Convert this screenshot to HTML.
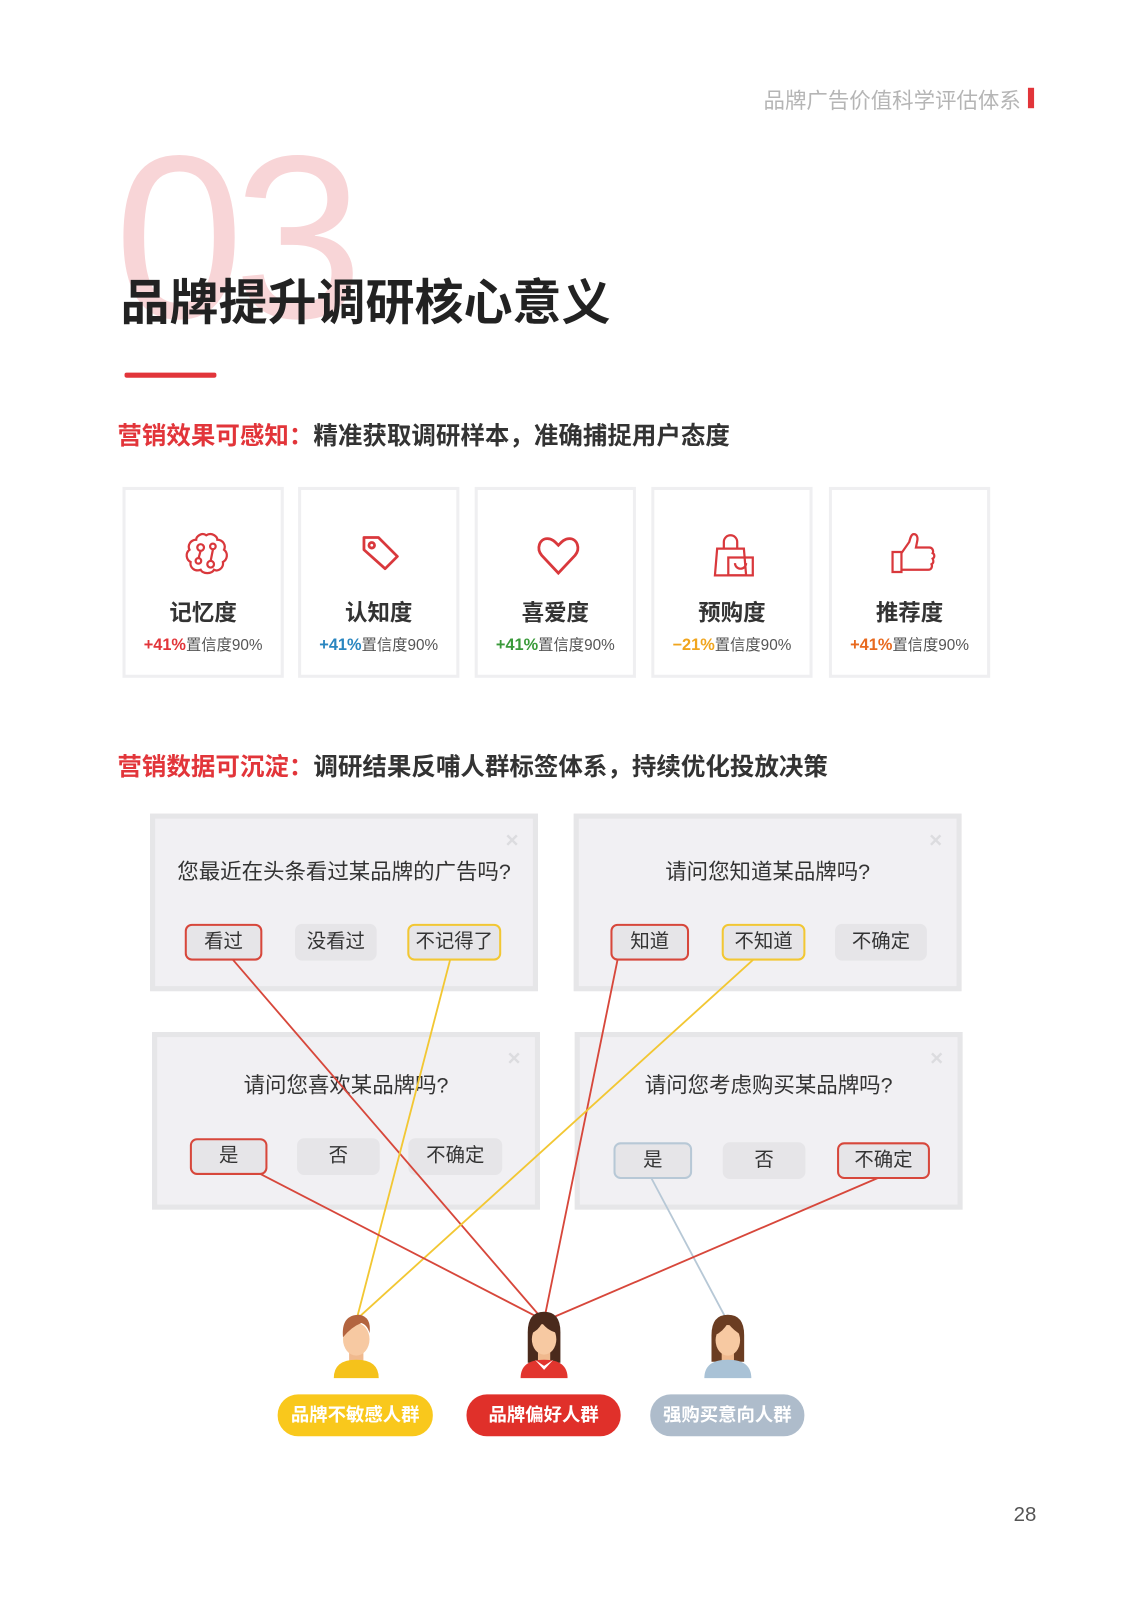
<!DOCTYPE html>
<html><head><meta charset="utf-8"><style>
*{margin:0;padding:0;box-sizing:border-box}
body{width:1131px;height:1600px;background:#fff;position:relative;overflow:hidden;font-family:"Liberation Sans","Noto Sans CJK SC",sans-serif;color:#333}
#w{position:absolute;left:0;top:0;width:1108px;height:1567px;transform:scale(1.0208);transform-origin:0 0}
.a{position:absolute}
.m{position:absolute;top:477px;width:158px;height:187px;border:3px solid #efeff1;text-align:center}
.m .t{position:absolute;top:103px;left:0;right:0;font-size:22px;font-weight:bold;color:#333}
.m .s{position:absolute;top:141px;left:0;right:0;font-size:15px;color:#555;white-space:nowrap}
.m .s span{font-weight:bold;font-size:16px}
.m svg{position:absolute;left:55px;top:40px}
.c{position:absolute;width:380px;height:174px;border:5px solid #e6e6e8;background:#f1f0f3}
.c .q{position:absolute;left:0;right:0;text-align:center;font-size:21px;color:#333}
.c .x{position:absolute;right:14px;top:8px;color:#dcdcdf;font-size:22px;font-weight:bold}
.b{position:absolute;height:36px;border-radius:7px;background:#e6e5e8;font-size:19px;text-align:center;line-height:32px;color:#333;border:2px solid #e6e5e8}
.r{border-color:#d7473b}.y{border-color:#f2c733}.g{border-color:#b7c8d6}
.p{position:absolute;top:1366px;height:41px;width:152px;border-radius:20px;color:#fff;font-weight:bold;font-size:18px;text-align:center;line-height:41px}
</style></head><body><div id="w">
<div class="a" style="left:748px;top:83px;font-size:21px;color:#b5b5b5;white-space:nowrap">品牌广告价值科学评估体系</div>
<div class="a" style="left:1007px;top:86px;width:6px;height:20px;background:#e2353a"></div>
<div class="a" style="left:112px;top:118px;font-size:228px;line-height:230px;color:#f8d5d7;font-family:'Liberation Sans',sans-serif;letter-spacing:-10px">03</div>
<div class="a" style="left:118px;top:257px;font-size:48px;font-weight:bold;color:#222;white-space:nowrap">品牌提升调研核心意义</div>
<div class="a" style="left:122px;top:365px;width:90px;height:5px;background:#e2353a;border-radius:2px"></div>
<div class="a" style="left:115px;top:407px;font-size:24px;font-weight:bold;color:#333;white-space:nowrap"><span style="color:#e2353a">营销效果可感知：</span>精准获取调研样本，准确捕捉用户态度</div>

<div class="m" style="left:120px"><svg width="48" height="48" viewBox="0 0 44 44" fill="none" stroke="#d9383c" stroke-width="2"><path d="M22 4c5-3 10 1 10 4 5 0 8 5 6 9 4 3 3 9-1 11 1 5-4 9-8 7-2 4-10 4-12 0-5 2-10-2-9-7-4-2-5-8-1-11-2-4 1-9 6-9 0-3 5-7 9-4z"/><circle cx="17" cy="15" r="3"/><circle cx="28" cy="14" r="2.5"/><circle cx="15" cy="27" r="2.5"/><circle cx="26" cy="30" r="3"/><path d="M17 18l-2 7M28 17l-2 10"/></svg><div class="t">记忆度</div><div class="s"><span style="color:#e2353a">+41%</span>置信度90%</div></div>
<div class="m" style="left:292px"><svg width="48" height="48" viewBox="0 0 44 44" fill="none" stroke="#d9383c" stroke-width="2.5"><path d="M6 6h13l17 17-11 11L6 17z" stroke-linejoin="round"/><circle cx="13" cy="13" r="2.5"/></svg><div class="t">认知度</div><div class="s"><span style="color:#2a86c0">+41%</span>置信度90%</div></div>
<div class="m" style="left:465px"><svg width="48" height="48" viewBox="0 0 44 44" fill="none" stroke="#d9383c" stroke-width="2.5"><path d="M22 38L7 22C2 16 5 7 12 7c5 0 8 4 10 6 2-2 5-6 10-6 7 0 10 9 5 15z"/></svg><div class="t">喜爱度</div><div class="s"><span style="color:#3a9a3a">+41%</span>置信度90%</div></div>
<div class="m" style="left:638px"><svg width="48" height="48" viewBox="0 0 44 44" fill="none" stroke="#d9383c" stroke-width="2"><path d="M6 16h24l2 24H4z"/><path d="M12 16v-6a6 6 0 0 1 12 0v6"/><path d="M16 24h22v16H16zM22 29a5 5 0 0 0 10 0"/></svg><div class="t">预购度</div><div class="s"><span style="color:#f0a51e">−21%</span>置信度90%</div></div>
<div class="m" style="left:812px"><svg width="48" height="48" viewBox="0 0 44 44" fill="none" stroke="#d9383c" stroke-width="2"><path d="M4 19h8v18H4zM12 20l7-10c1-4 2-7 4-7 3 0 4 3 3 7l-1 5h12c3 0 4 3 3 5 2 1 2 4 0 5 1 2 1 4-1 5 1 2 0 5-3 5H12"/></svg><div class="t">推荐度</div><div class="s"><span style="color:#e86a1f">+41%</span>置信度90%</div></div>

<div class="a" style="left:115px;top:731px;font-size:24px;font-weight:bold;color:#333;white-space:nowrap"><span style="color:#e2353a">营销数据可沉淀：</span>调研结果反哺人群标签体系，持续优化投放决策</div>

<div class="c" style="left:147px;top:797px"><span class="x">×</span><div class="q" style="top:36px">您最近在头条看过某品牌的广告吗?</div></div>
<div class="b r" style="left:181px;top:905px;width:76px">看过</div>
<div class="b" style="left:289px;top:905px;width:80px">没看过</div>
<div class="b y" style="left:399px;top:905px;width:92px">不记得了</div>
<div class="c" style="left:562px;top:797px"><span class="x">×</span><div class="q" style="top:36px">请问您知道某品牌吗?</div></div>
<div class="b r" style="left:598px;top:905px;width:77px">知道</div>
<div class="b y" style="left:707px;top:905px;width:82px">不知道</div>
<div class="b" style="left:818px;top:905px;width:90px">不确定</div>
<div class="c" style="left:149px;top:1011px"><span class="x">×</span><div class="q" style="top:31px">请问您喜欢某品牌吗?</div></div>
<div class="b r" style="left:186px;top:1115px;width:76px">是</div>
<div class="b" style="left:291px;top:1115px;width:81px">否</div>
<div class="b" style="left:400px;top:1115px;width:92px">不确定</div>
<div class="c" style="left:563px;top:1011px"><span class="x">×</span><div class="q" style="top:31px">请问您考虑购买某品牌吗?</div></div>
<div class="b g" style="left:601px;top:1119px;width:77px">是</div>
<div class="b" style="left:708px;top:1119px;width:81px">否</div>
<div class="b r" style="left:820px;top:1119px;width:91px">不确定</div>

<svg class="a" style="left:0;top:0" width="1108" height="1567">
<g stroke-width="1.8">
<line x1="228" y1="940" x2="532" y2="1293" stroke="#d7473b"/>
<line x1="441" y1="940" x2="350" y2="1290" stroke="#f2c733"/>
<line x1="605" y1="940" x2="533" y2="1293" stroke="#d7473b"/>
<line x1="738" y1="940" x2="352" y2="1290" stroke="#f2c733"/>
<line x1="255" y1="1150" x2="532" y2="1293" stroke="#d7473b"/>
<line x1="638" y1="1154" x2="712" y2="1293" stroke="#b7c8d6"/>
<line x1="860" y1="1154" x2="536" y2="1293" stroke="#d7473b"/>
</g>
<rect x="342" y="1320" width="14" height="14" fill="#f0b98e"/>
<path d="M327 1350q0-18 22-18q22 0 22 18z" fill="#f5c21b"/>
<ellipse cx="349" cy="1312" rx="13" ry="16" fill="#f7c9a2"/>
<path d="M336 1310q-2-22 16-22q12 2 10 18q-2-8-8-10q-10 4-18 14z" fill="#b3643f"/>
<path d="M517 1305q0-20 16-20q16 0 16 20v30h-32z" fill="#4a2a1c"/>
<rect x="527" y="1320" width="12" height="14" fill="#f0b98e"/>
<path d="M510 1350q0-18 23-18q23 0 23 18z" fill="#e2352e"/>
<path d="M524 1332l9 6 9-6-9 10z" fill="#fff"/>
<ellipse cx="533" cy="1312" rx="12" ry="15" fill="#f7c9a2"/>
<path d="M520 1306q2-16 13-16q12 0 14 16q-10-2-16-10q-4 8-11 10z" fill="#4a2a1c"/>
<path d="M697 1308q0-20 16-20q16 0 16 20v26h-32z" fill="#6b3d22"/>
<rect x="707" y="1320" width="12" height="14" fill="#f0b98e"/>
<path d="M690 1350q0-18 23-18q23 0 23 18z" fill="#a9c2d6"/>
<ellipse cx="713" cy="1313" rx="12" ry="15" fill="#f7c9a2"/>
<path d="M700 1308q2-16 13-16q12 0 14 16q-8-4-14-12q-5 9-13 12z" fill="#6b3d22"/>
</svg>
<div class="p" style="left:272px;background:#f9c81c">品牌不敏感人群</div>
<div class="p" style="left:457px;width:151px;background:#e0302a">品牌偏好人群</div>
<div class="p" style="left:637px;width:151px;background:#aebccb">强购买意向人群</div>
<div class="a" style="left:993px;top:1473px;font-size:20px;color:#555">28</div>
</div></body></html>
